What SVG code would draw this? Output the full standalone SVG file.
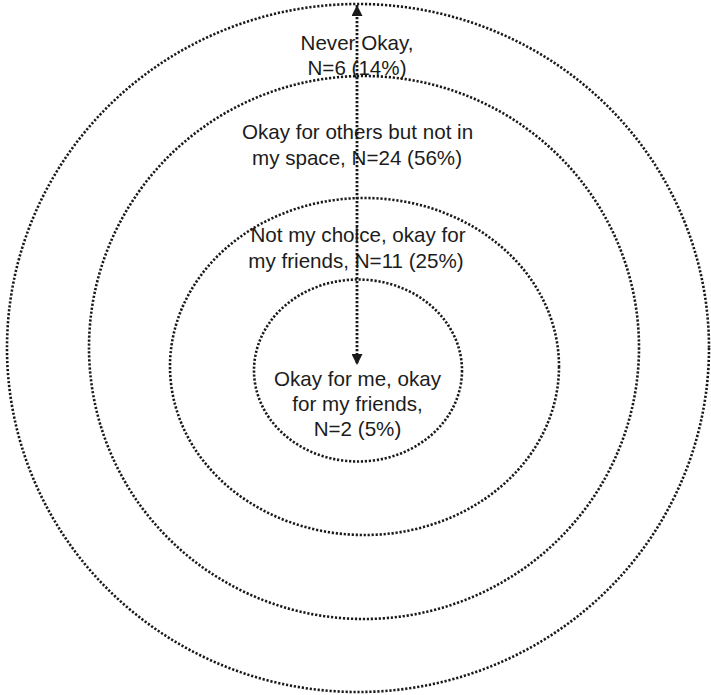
<svg xmlns="http://www.w3.org/2000/svg" width="711" height="695" viewBox="0 0 711 695">
<style>
.ring{fill:none;stroke:#1a1a1a;stroke-width:2.6;stroke-dasharray:2.2 1.8}
.lbl{font-family:"Liberation Sans",Arial,Helvetica,sans-serif;font-size:20.6px;fill:#1c1c1c;text-anchor:middle}
.conn{fill:none;stroke:#1a1a1a;stroke-width:2.8;stroke-dasharray:2.2 1.8}
</style>
<defs>
<marker id="ah" viewBox="0 0 10 10" refX="10" refY="5" markerWidth="11" markerHeight="11" markerUnits="userSpaceOnUse" orient="auto-start-reverse">
<path d="M0,0 L10,5 L0,10 Z" fill="#1a1a1a"/>
</marker>
</defs>
<rect width="711" height="695" fill="#fff"/>
<g id="ring-never">
<ellipse class="ring" cx="358" cy="348" rx="351" ry="344"/>
<text class="lbl" x="357" y="49.5">Never Okay,</text>
<text class="lbl" x="357" y="75">N=6 (14%)</text>
</g>
<g id="ring-others">
<ellipse class="ring" cx="364" cy="347.5" rx="275" ry="271.5"/>
<text class="lbl" x="357.5" y="139">Okay for others but not in</text>
<text class="lbl" x="357" y="165">my space, N=24 (56%)</text>
</g>
<g id="ring-friends">
<ellipse class="ring" cx="364.5" cy="366.5" rx="194.5" ry="168.5"/>
<text class="lbl" x="358" y="242">Not my choice, okay for</text>
<text class="lbl" x="356" y="268">my friends, N=11 (25%)</text>
</g>
<g id="ring-me">
<ellipse class="ring" cx="358" cy="370.5" rx="104" ry="91"/>
<text class="lbl" x="357.5" y="386">Okay for me, okay</text>
<text class="lbl" x="357.5" y="411">for my friends,</text>
<text class="lbl" x="357.5" y="436">N=2 (5%)</text>
</g>
<g id="connectors">
<line class="conn" x1="357" y1="5" x2="357" y2="365" marker-start="url(#ah)" marker-end="url(#ah)"/>
</g>
</svg>
